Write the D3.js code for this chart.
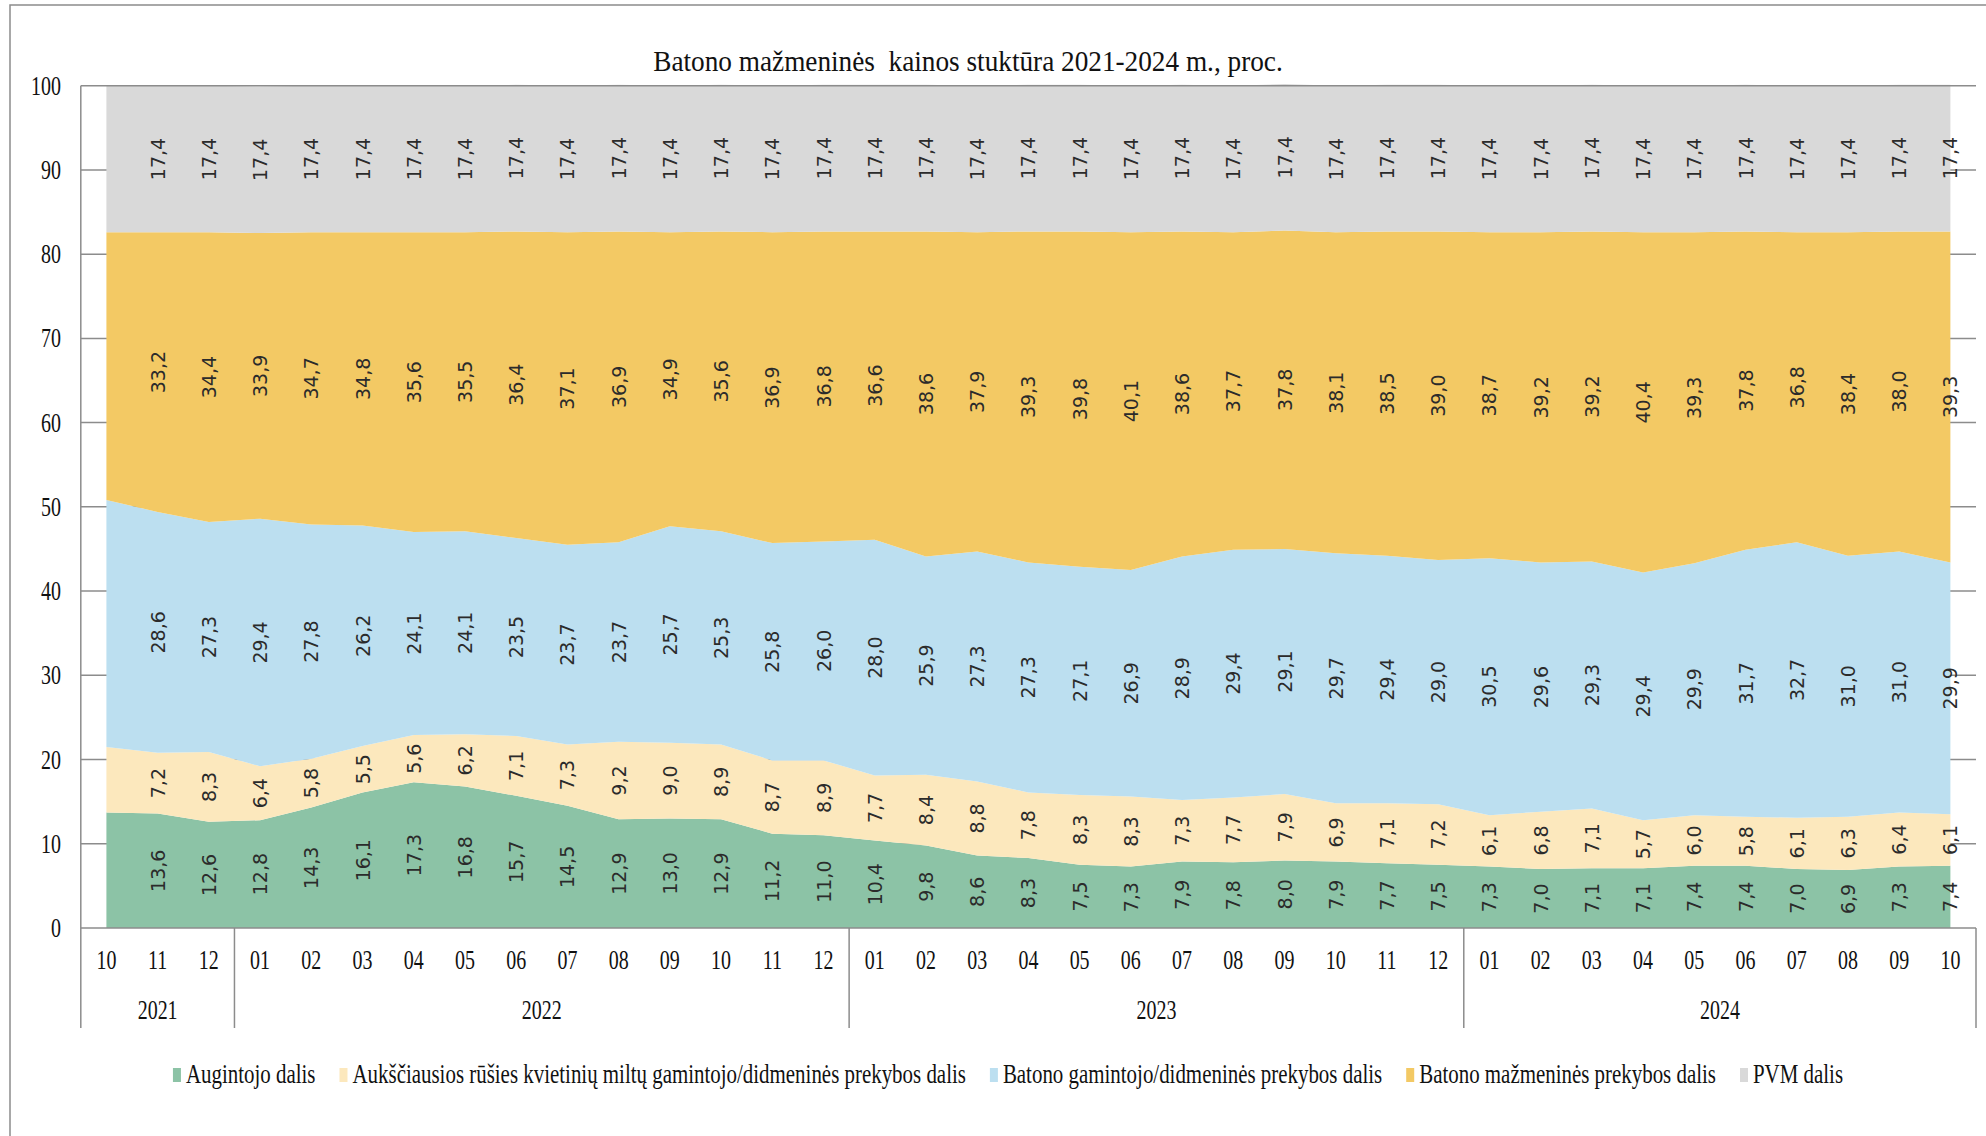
<!DOCTYPE html>
<html>
<head>
<meta charset="utf-8">
<script src="https://cdn.jsdelivr.net/npm/d3@7"></script>
<style>
  html, body { margin: 0; padding: 0; background: #fff; }
  svg { display: block; }
</style>
</head>
<body>
<svg id="chart" width="1986" height="1136"></svg>
<script>
// ---------------- DATA ----------------
const title = "Batono mažmeninės  kainos stuktūra 2021-2024 m., proc.";
const months = ["10","11","12",
  "01","02","03","04","05","06","07","08","09","10","11","12",
  "01","02","03","04","05","06","07","08","09","10","11","12",
  "01","02","03","04","05","06","07","08","09","10"];
const monthYears = ["2021","2021","2021",
  "2022","2022","2022","2022","2022","2022","2022","2022","2022","2022","2022","2022",
  "2023","2023","2023","2023","2023","2023","2023","2023","2023","2023","2023","2023",
  "2024","2024","2024","2024","2024","2024","2024","2024","2024","2024"];
const seriesNames = ["Augintojo dalis",
  "Aukščiausios rūšies kvietinių miltų gamintojo/didmeninės prekybos dalis",
  "Batono gamintojo/didmeninės prekybos dalis",
  "Batono mažmeninės prekybos dalis",
  "PVM dalis"];
const augintojo = [13.7, 13.6, 12.6,
  12.8, 14.3, 16.1, 17.3, 16.8, 15.7, 14.5, 12.9, 13.0, 12.9, 11.2, 11.0,
  10.4, 9.8, 8.6, 8.3, 7.5, 7.3, 7.9, 7.8, 8.0, 7.9, 7.7, 7.5,
  7.3, 7.0, 7.1, 7.1, 7.4, 7.4, 7.0, 6.9, 7.3, 7.4];
const miltai = [7.8, 7.2, 8.3,
  6.4, 5.8, 5.5, 5.6, 6.2, 7.1, 7.3, 9.2, 9.0, 8.9, 8.7, 8.9,
  7.7, 8.4, 8.8, 7.8, 8.3, 8.3, 7.3, 7.7, 7.9, 6.9, 7.1, 7.2,
  6.1, 6.8, 7.1, 5.7, 6.0, 5.8, 6.1, 6.3, 6.4, 6.1];
const gamintojo = [29.3, 28.6, 27.3,
  29.4, 27.8, 26.2, 24.1, 24.1, 23.5, 23.7, 23.7, 25.7, 25.3, 25.8, 26.0,
  28.0, 25.9, 27.3, 27.3, 27.1, 26.9, 28.9, 29.4, 29.1, 29.7, 29.4, 29.0,
  30.5, 29.6, 29.3, 29.4, 29.9, 31.7, 32.7, 31.0, 31.0, 29.9];
const mazmenine = [31.8, 33.2, 34.4,
  33.9, 34.7, 34.8, 35.6, 35.5, 36.4, 37.1, 36.9, 34.9, 35.6, 36.9, 36.8,
  36.6, 38.6, 37.9, 39.3, 39.8, 40.1, 38.6, 37.7, 37.8, 38.1, 38.5, 39.0,
  38.7, 39.2, 39.2, 40.4, 39.3, 37.8, 36.8, 38.4, 38.0, 39.3];
const pvm = [17.4, 17.4, 17.4,
  17.4, 17.4, 17.4, 17.4, 17.4, 17.4, 17.4, 17.4, 17.4, 17.4, 17.4, 17.4,
  17.4, 17.4, 17.4, 17.4, 17.4, 17.4, 17.4, 17.4, 17.4, 17.4, 17.4, 17.4,
  17.4, 17.4, 17.4, 17.4, 17.4, 17.4, 17.4, 17.4, 17.4, 17.4];
const yTicks = [0, 10, 20, 30, 40, 50, 60, 70, 80, 90, 100];
const firstLabelled = 1; // first month has no data labels

// ---------------- STYLE ----------------
const colors = ["#8cc3a6", "#fce8bd", "#bcdff0", "#f3c964", "#d9d9d9"];
const serif = "'Liberation Serif', 'Times New Roman', serif";
const sans = "'DejaVu Sans', Verdana, sans-serif";
const squeeze = 0.74;

const svg = d3.select("#chart");
const plotL = 80.8, plotR = 1976, plotT = 85.7, plotB = 928;

// frame
svg.append("rect").attr("x", 10).attr("y", 5).attr("width", 3000).attr("height", 3000)
  .attr("fill", "none").attr("stroke", "#8c8c8c").attr("stroke-width", 1.5);

const keys = ["a","b","c","d","e"];
const rows = months.map((m, i) => ({i, a: augintojo[i], b: miltai[i], c: gamintojo[i], d: mazmenine[i], e: pvm[i]}));
const stacked = d3.stack().keys(keys)(rows);

const x = d3.scalePoint().domain(d3.range(months.length)).range([plotL, plotR]).padding(0.5);
const step = x.step();
const y = d3.scaleLinear().domain([0, 100]).range([plotB, plotT]);

// gridlines (behind)
svg.append("g").selectAll("line").data(yTicks.filter(t => t > 0 && t < 100)).join("line")
  .attr("x1", plotL).attr("x2", plotR)
  .attr("y1", d => y(d)).attr("y2", d => y(d))
  .attr("stroke", "#8c8c8c").attr("stroke-width", 1.5);

// areas
const area = d3.area().x(d => x(d.data.i)).y0(d => y(d[0])).y1(d => y(d[1]));
svg.append("g").selectAll("path").data(stacked).join("path")
  .attr("d", area).attr("fill", (d, k) => colors[k]);

// top line and axis line
svg.append("line").attr("x1", plotL).attr("x2", plotR).attr("y1", y(100)).attr("y2", y(100))
  .attr("stroke", "#8c8c8c").attr("stroke-width", 1.5);
svg.append("line").attr("x1", plotL).attr("x2", plotR).attr("y1", y(0)).attr("y2", y(0))
  .attr("stroke", "#8c8c8c").attr("stroke-width", 1.5);
svg.append("line").attr("x1", plotL).attr("x2", plotL).attr("y1", y(100)).attr("y2", y(0))
  .attr("stroke", "#8c8c8c").attr("stroke-width", 1.5);

// data labels
const fmt = v => v.toFixed(1).replace(".", ",");
const lab = svg.append("g").attr("font-family", sans).attr("font-size", 19).attr("fill", "#2b2b2b");
stacked.forEach(layer => {
  layer.forEach(d => {
    if (d.data.i < firstLabelled) return;
    const cx = x(d.data.i), cy = y((d[0] + d[1]) / 2);
    lab.append("text")
      .attr("transform", `translate(${cx},${cy}) rotate(-90)`)
      .attr("text-anchor", "middle").attr("dominant-baseline", "central")
      .text(fmt(d[1] - d[0]));
  });
});

// y axis labels
const yl = svg.append("g").attr("font-family", serif).attr("font-size", 27).attr("fill", "#111");
yTicks.forEach(t => {
  yl.append("text").attr("transform", `translate(61,${y(t)}) scale(${squeeze},1)`)
    .attr("text-anchor", "end").attr("dominant-baseline", "central").text(t);
});

// x axis month labels
const xl = svg.append("g").attr("font-family", serif).attr("font-size", 27).attr("fill", "#111");
months.forEach((m, i) => {
  xl.append("text").attr("transform", `translate(${x(i)},960) scale(${squeeze},1)`)
    .attr("text-anchor", "middle").attr("dominant-baseline", "central").text(m);
});

// year groups
const groups = [];
monthYears.forEach((yr, i) => {
  const g = groups[groups.length - 1];
  if (g && g.year === yr) g.end = i; else groups.push({year: yr, start: i, end: i});
});
const sepX = [plotL];
groups.forEach(g => sepX.push(x(g.end) + step / 2));
svg.append("g").selectAll("line").data(sepX).join("line")
  .attr("x1", d => d).attr("x2", d => d).attr("y1", y(0)).attr("y2", 1028)
  .attr("stroke", "#8c8c8c").attr("stroke-width", 1.5);
groups.forEach(g => {
  xl.append("text").attr("transform", `translate(${(x(g.start) + x(g.end)) / 2},1010) scale(${squeeze},1)`)
    .attr("text-anchor", "middle").attr("dominant-baseline", "central").text(g.year);
});

// title
svg.append("text").attr("transform", `translate(968,61) scale(0.94,1)`)
  .attr("font-family", serif).attr("font-size", 29).attr("fill", "#111")
  .attr("text-anchor", "middle").attr("dominant-baseline", "central")
  .style("white-space", "pre").text(title);

// legend
const legSq = 0.775;
const leg = svg.append("g").attr("font-family", serif).attr("font-size", 27).attr("fill", "#111");
let cursor = 0;
seriesNames.forEach((name, k) => {
  const g = leg.append("g");
  g.append("rect").attr("x", cursor).attr("y", -15).attr("width", 8).attr("height", 14).attr("fill", colors[k]);
  const t = g.append("text").attr("transform", `translate(${cursor + 13},0) scale(${legSq},1)`).text(name);
  const w = t.node().getComputedTextLength() * legSq;
  cursor += 13 + w + 24;
});
const totalW = cursor - 24;
leg.attr("transform", `translate(${1008 - totalW / 2},1083)`);
</script>
</body>
</html>
